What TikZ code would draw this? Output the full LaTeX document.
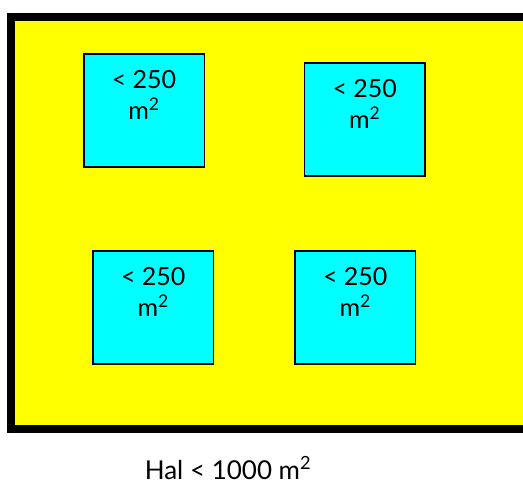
\documentclass[tikz,border=0pt]{standalone}
\usepackage{fontspec}
\setmainfont{Lato}
\definecolor{hallyellow}{RGB}{255,255,0}
\definecolor{roomcyan}{RGB}{0,255,255}
\begin{document}
\begin{tikzpicture}[x=1pt,y=-1pt,
  room/.style={draw=black,line width=1.5pt,fill=roomcyan,minimum width=120.5pt,minimum height=113pt,inner sep=0pt},
  lab/.style={anchor=base,align=center,font=\fontsize{25}{31}\selectfont,inner sep=0pt},
  hall/.style={draw=black,line width=8pt,fill=hallyellow}]
\useasboundingbox (0,0) rectangle (523,484);
\fill[white] (0,0) rectangle (523,484);
\begin{scope}
\clip (0,0) rectangle (523,484);
\draw[hall] (11,16.7) rectangle (527,428.7);
\end{scope}
\node[room] (b1) at (144,110.3) {};
\node[room] (b2) at (364.7,119.5) {};
\node[room] (b3) at (153.2,307.5) {};
\node[room] (b4) at (355.2,307.5) {};
\node[lab] (t1) at ([yshift=-66pt]b1.north) {< 250\\m\textsuperscript{2}};
\node[lab] (t2) at ([yshift=-66.3pt]b2.north) {< 250\\m\textsuperscript{2}};
\node[lab] (t3) at ([yshift=-66pt]b3.north) {< 250\\m\textsuperscript{2}};
\node[lab] (t4) at ([yshift=-66pt]b4.north) {< 250\\m\textsuperscript{2}};
\node[anchor=base,inner sep=0pt,font=\fontsize{26}{31}\selectfont] (hal) at (228,479) {Hal < 1000 m\textsuperscript{2}};
\end{tikzpicture}
\end{document}
